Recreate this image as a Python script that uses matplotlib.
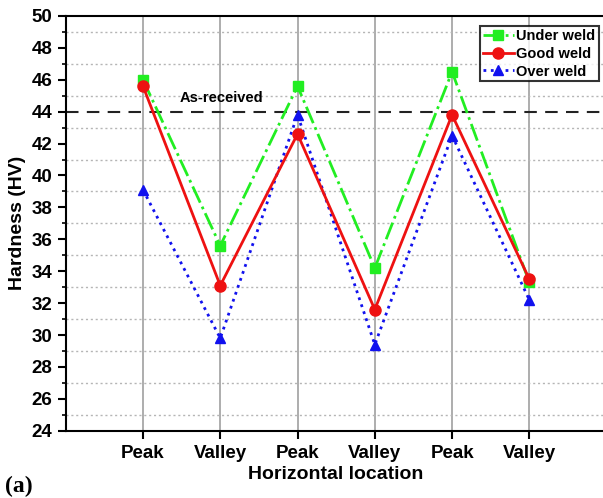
import numpy as np
import matplotlib
matplotlib.use("Agg")
import matplotlib.pyplot as plt
from matplotlib.ticker import MultipleLocator

plt.rcParams['font.family'] = ['Liberation Sans', 'DejaVu Sans']
plt.rcParams['font.weight'] = 'bold'

locations = ["Peak", "Valley", "Peak", "Valley", "Peak", "Valley"]
under_weld = [46.0, 35.6, 45.6, 34.2, 46.5, 33.3]
good_weld = [45.6, 33.1, 42.6, 31.6, 43.8, 33.5]
over_weld = [39.1, 29.8, 43.8, 29.4, 42.5, 32.2]
as_received = 44

x = np.arange(1, len(locations) + 1)

fig = plt.figure(figsize=(6.03, 4.98), dpi=100)
ax = fig.add_axes([0.109, 0.135, 0.897, 0.833])

for xi in x:
    ax.axvline(xi, color='#a0a0a0', lw=1.2, zorder=0)
for yv in range(25, 50, 2):
    ax.axhline(yv, color='#b5b5b5', lw=1.0, ls=(0, (1.5, 2)), zorder=0)

ax.axhline(as_received, color='#222222', lw=1.5, ls=(0, (6, 4)), zorder=1)
ax.text(1.48, 44.6, "As-received", fontsize=10.5, fontweight='bold')

ax.plot(x, under_weld, color='#22ee22', ls='-.', lw=2, marker='s', ms=7,
        label="Under weld", zorder=3)
ax.plot(x, good_weld, color='#ee1111', ls='-', lw=2, marker='o', ms=8,
        label="Good weld", zorder=4)
ax.plot(x, over_weld, color='#1111ee', ls=':', lw=2, marker='^', ms=7,
        label="Over weld", zorder=3)

ax.set_xlim(0, 7)
ax.set_ylim(24, 50)
ax.set_xticks(x)
ax.set_xticklabels(locations)
ax.yaxis.set_major_locator(MultipleLocator(2))
ax.yaxis.set_minor_locator(MultipleLocator(1))
ax.tick_params(axis='both', labelsize=13.5, width=1.5, length=6, direction='out')
ax.tick_params(axis='y', which='minor', length=3, width=1.2)
ax.tick_params(axis='x', pad=4)
for lab in ax.get_xticklabels() + ax.get_yticklabels():
    lab.set_fontweight('bold')
for s in ax.spines.values():
    s.set_linewidth(1.5)

ax.set_xlabel("Horizontal location", fontsize=14, fontweight='bold', labelpad=3)
ax.set_ylabel("Hardness (HV)", fontsize=14, fontweight='bold', labelpad=4)

leg = ax.legend(loc='upper right', fontsize=10.5, frameon=True, fancybox=False,
                edgecolor='black', handlelength=2.1, borderpad=0.2,
                labelspacing=0.25, handletextpad=0.2, borderaxespad=0.0,
                bbox_to_anchor=(0.985, 0.975))
leg.get_frame().set_linewidth(1.5)
for t in leg.get_texts():
    t.set_fontweight('bold')

fig.text(0.008, 0.012, "(a)", fontsize=17, fontweight='bold', family='Liberation Serif')

fig.savefig("out.png", dpi=100)
